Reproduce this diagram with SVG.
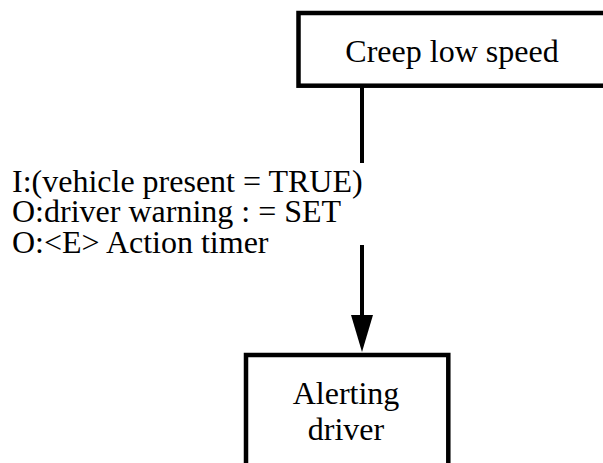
<svg xmlns="http://www.w3.org/2000/svg" width="603" height="463" viewBox="0 0 603 463">
  <defs>
    <style>
      .box { fill: #ffffff; stroke: #000000; stroke-width: 4.5; }
      .edge { fill: none; stroke: #000000; stroke-width: 4; }
      .lbl { font-family: "Liberation Serif", "Times New Roman", serif; font-size: 32px; fill: #000000; }
      .mid { text-anchor: middle; }
    </style>
  </defs>
  <rect width="603" height="463" fill="#ffffff"/>

  <g id="creep-low-speed">
    <rect class="box" x="298.5" y="13" width="310" height="72.7"/>
    <text class="lbl mid" x="452" y="62">Creep low speed</text>
  </g>

  <g id="alerting-driver">
    <rect class="box" x="246" y="355" width="202.3" height="120"/>
    <text class="lbl mid" x="346" y="403.5"><tspan x="346">Alerting</tspan><tspan x="346" dy="36.5">driver</tspan></text>
  </g>

  <g id="connectors">
    <line class="edge" x1="362" y1="87" x2="362" y2="163"/>
    <line class="edge" x1="362" y1="245" x2="362" y2="316"/>
    <path d="M351,315 L373,315 L362,352 Z" fill="#000000"/>
    <!-- transition label: input condition and outputs -->
    <text class="lbl" x="12" y="192" font-size="32.5"><tspan x="12">I:(vehicle present = TRUE)</tspan><tspan x="12" dy="30">O:driver warning : = SET</tspan><tspan x="12" dy="31">O:&lt;E&gt; Action timer</tspan></text>
  </g>
</svg>
